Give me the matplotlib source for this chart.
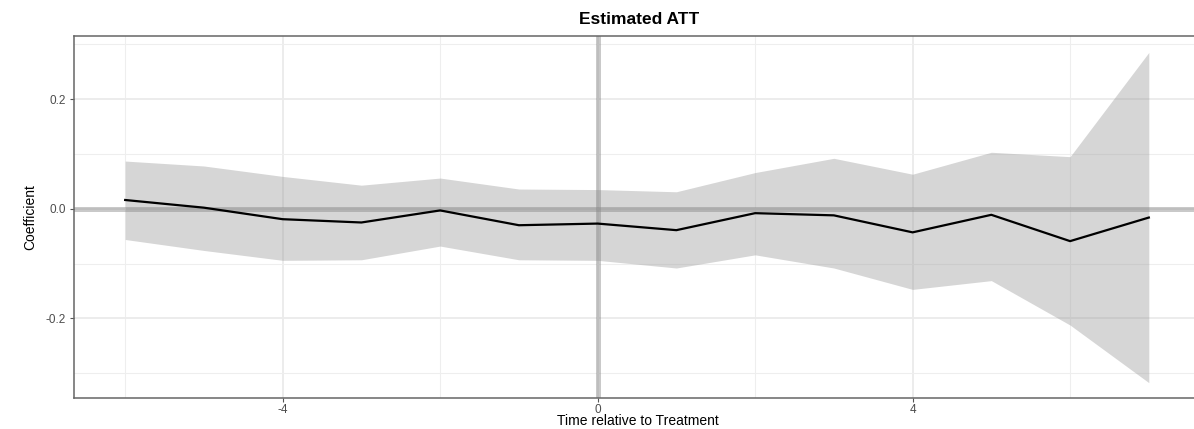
import matplotlib
matplotlib.use("Agg")
import matplotlib.pyplot as plt
import numpy as np

# Data
periods = [-6, -5, -4, -3, -2, -1, 0, 1, 2, 3, 4, 5, 6, 7]
estimate = [0.016, 0.002, -0.019, -0.025, -0.003, -0.030, -0.027, -0.039, -0.008, -0.012, -0.043, -0.011, -0.059, -0.016]
ci_upper = [0.087, 0.078, 0.059, 0.043, 0.056, 0.036, 0.035, 0.031, 0.066, 0.092, 0.063, 0.103, 0.095, 0.285]
ci_lower = [-0.056, -0.076, -0.094, -0.093, -0.068, -0.093, -0.094, -0.108, -0.084, -0.108, -0.147, -0.131, -0.212, -0.317]

x_major = [-4, 0, 4]
x_minor = [-6, -2, 2, 6]
y_major = [-0.2, 0.0, 0.2]
y_minor = [-0.3, -0.1, 0.1, 0.3]

title = "Estimated ATT"
xlabel = "Time relative to Treatment"
ylabel = "Coefficient"

plt.rcParams['font.family'] = ['Liberation Sans', 'DejaVu Sans']

fig = plt.figure(figsize=(11.94, 4.29), dpi=100)
ax = fig.add_axes([74/1194, 31/429, (1200-74)/1194, (398-36)/429])

ax.set_xlim(-6.65, 7.65)
ax.set_ylim(-0.345, 0.315)

# grid
for v in x_minor:
    ax.axvline(v, color='#eeeeee', lw=0.8, zorder=0)
for v in x_major:
    ax.axvline(v, color='#ebebeb', lw=1.3, zorder=0)
for v in y_minor:
    ax.axhline(v, color='#eeeeee', lw=0.8, zorder=0)
for v in y_major:
    ax.axhline(v, color='#ebebeb', lw=1.3, zorder=0)

ax.fill_between(periods, ci_lower, ci_upper, color='#999999', alpha=0.4, lw=0, zorder=1)
ax.axhline(0, color='#888888', alpha=0.45, lw=3.6, zorder=2)
ax.axvline(0, color='#888888', alpha=0.45, lw=3.6, zorder=2)
ax.plot(periods, estimate, color='black', lw=1.6, zorder=3)

ax.set_xticks(x_major)
ax.set_xticklabels([str(v) for v in x_major])
ax.set_yticks(y_major)
ax.set_yticklabels(["-0.2", "0.0", "0.2"])
ax.tick_params(axis='both', length=3, width=0.8, color='#555555',
               labelcolor='#4d4d4d', labelsize=8.5, pad=3)
ax.tick_params(axis='x', pad=1)

for s in ax.spines.values():
    s.set_color('#666666')
    s.set_linewidth(1.1)

fig.text(638/1194, 1 - 421/429, xlabel, fontsize=10, ha='center', va='center')
ax.set_ylabel(ylabel, fontsize=10, labelpad=6)
fig.text(639/1194, 1 - 19/429, title, fontsize=12.5, fontweight='bold',
         ha='center', va='center')

fig.savefig("out.png", dpi=100)
